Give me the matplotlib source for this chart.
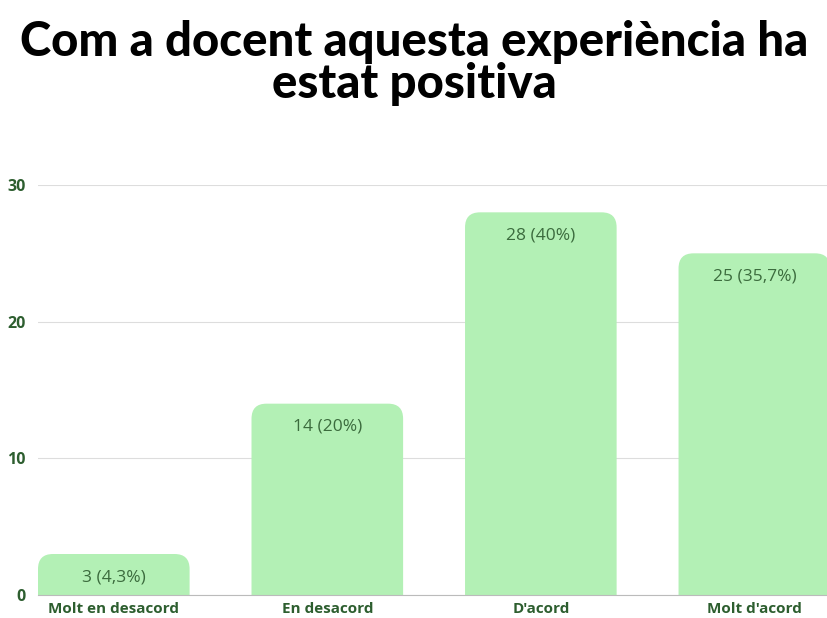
import matplotlib.pyplot as plt
from matplotlib.patches import FancyBboxPatch

# Chart data
categories = ["Molt en desacord", "En desacord", "D'acord", "Molt d'acord"]
counts = [3, 14, 28, 25]
labels = ["3 (4,3%)", "14 (20%)", "28 (40%)", "25 (35,7%)"]

bar_color = "#b3f0b5"
text_green = "#2d5e2f"

fig = plt.figure(figsize=(8.28, 6.18), dpi=100)
ax = fig.add_axes([38 / 828, 1 - 595 / 618, 790 / 828, 410 / 618])

bar_w = 0.71
rx = 0.07   # corner radius in x data units
ry = 1.1    # corner radius in y data units
for i, v in enumerate(counts):
    # extend below zero so only the top corners look rounded
    patch = FancyBboxPatch((i - bar_w / 2, -3), bar_w, v + 3,
                           boxstyle="round,pad=0,rounding_size=%g" % rx,
                           mutation_aspect=ry / rx,
                           facecolor=bar_color, edgecolor="none", zorder=2)
    ax.add_patch(patch)
    ax.annotate(labels[i], (i, v), xytext=(0, -23), textcoords="offset pixels",
                ha="center", va="center", fontsize=12.5, color="#3b6b3d",
                family="Open Sans", zorder=3)

ax.set_xlim(-0.355, 3.345)
ax.set_ylim(0, 30)
ax.set_yticks([0, 10, 20, 30])
ax.set_xticks(range(len(categories)))
ax.set_xticklabels(categories)
ax.grid(axis="y", color="#dddddd", linewidth=0.8, zorder=0)
ax.set_axisbelow(True)
for s in ["top", "right", "left"]:
    ax.spines[s].set_visible(False)
ax.spines["bottom"].set_color("#bbbbbb")
ax.spines["bottom"].set_zorder(4)
ax.tick_params(length=0, colors=text_green, labelsize=11, pad=5)
ax.tick_params(axis="y", pad=9, labelsize=11.5)
for t in ax.get_xticklabels() + ax.get_yticklabels():
    t.set_fontweight("bold")
    t.set_family("Open Sans")

fig.text(0.5, 1 - 56 / 618, "Com a docent aquesta experiència ha", ha="center",
         va="baseline", fontsize=34, fontweight="black", family="Lato", color="black")
fig.text(0.5, 1 - 98 / 618, "estat positiva", ha="center",
         va="baseline", fontsize=34, fontweight="black", family="Lato", color="black")

fig.savefig("out.png", dpi=100)
